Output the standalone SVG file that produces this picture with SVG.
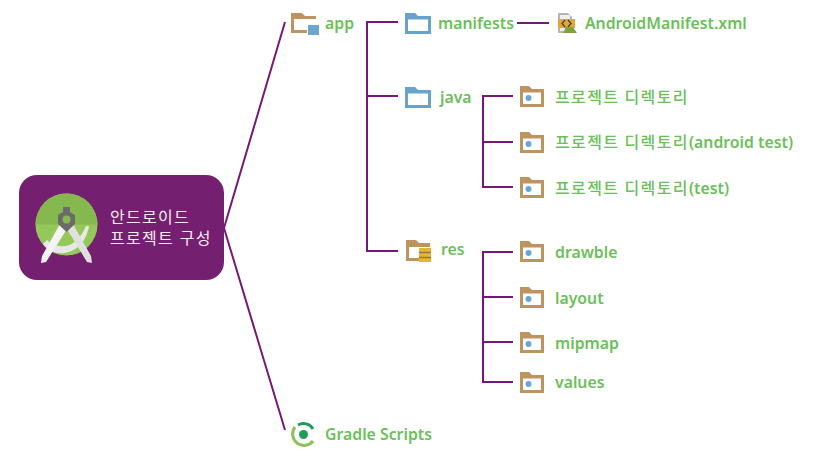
<svg xmlns="http://www.w3.org/2000/svg" width="820" height="457" viewBox="0 0 820 457">
<style>
.l{font-family:"Noto Sans","Noto Sans CJK KR",sans-serif;font-size:15.800px;font-weight:600;fill:#6cbf5a}
.k{font-family:"Noto Sans CJK KR",sans-serif;font-size:16px;font-weight:500;letter-spacing:1.400px}
.w{font-family:"Liberation Sans","Noto Sans CJK KR",sans-serif;font-size:16px;font-weight:400;letter-spacing:1.300px;fill:#f4eef4}
.c{fill:none;stroke:#761878;stroke-width:2}
</style>
<defs>
<g id="bf"><path d="M0 0H9L12 3H24V21H0Z" fill="#bd9460"/><rect x="3" y="6.500" width="18" height="11.500" fill="#fff"/><circle cx="8.500" cy="12" r="3" fill="#6aa6d4"/></g>
<g id="blue"><path d="M0 0H10L13 3H26V21H0Z" fill="#68a3cb"/><rect x="3" y="6.500" width="20" height="11.500" fill="#fff"/></g>
</defs>
<rect width="820" height="457" fill="#fff"/>
<g id="connectors" class="c">
<path d="M285 22L224 228L285 430"/>
<path d="M398 22H367V251H398M367 96H398"/>
<path d="M517 23H549"/>
<path d="M513 96H483V187H513M483 142H513"/>
<path d="M513 252H483V382H513M483 297H513M483 342H513"/>
</g>
<g id="root">
<rect x="19" y="175" width="205" height="105" rx="18" fill="#741f6f"/>
<circle cx="66.500" cy="224.500" r="31" fill="#94c95a"/>
<path d="M35.500 224.500A31 31 0 0 1 97.500 224.500Z" fill="#85b94f"/>
<path d="M47 240C58 250 76 250 86 226L89 226C84 256 54 260 43 244Z" fill="#e8e8e8"/>
<path d="M60 224L67 229L46 262L41 263L42 256Z" fill="#f4f4f4"/>
<path d="M73 224L67 229L87 262L92 263L91 256Z" fill="#e0e0e0"/>
<path d="M63 207H70V212L75 215V224L66.500 232L58 224V215L63 212Z" fill="#6b6b6b"/>
<circle cx="66.500" cy="219.500" r="4" fill="#85b94f"/>
<text class="w"><tspan x="110" y="223">안드로이드</tspan><tspan x="110" y="244">프로젝트 구성</tspan></text>
</g>
<g id="app"><path d="M291 13H302L305 16H316V19H294V30H307V33H291Z" fill="#bd9460"/><rect x="308" y="25" width="11" height="10" fill="#6aa6d0"/><text class="l" x="325" y="29">app</text></g>
<g id="manifests"><use href="#blue" x="405" y="13"/><text class="l" x="438" y="29">manifests</text></g>
<g id="androidmanifest"><path d="M558 13H568L572 17V33H558Z" fill="#b5b5b5"/><rect x="560" y="15" width="10" height="16" fill="#eee"/><rect x="558" y="19" width="17" height="9" fill="#e8a33c"/><path d="M565 20L562 23.500L565 27M568 20L571 23.500L568 27" fill="none" stroke="#444" stroke-width="1.300"/><path d="M563 33L566 27H573L577 33Z" fill="#7da33e"/><text class="l" x="585" y="29">AndroidManifest.xml</text></g>
<g id="java"><use href="#blue" x="405" y="87"/><text class="l" x="440" y="103">java</text></g>
<g id="res"><path d="M406 240H416L419 243H430V247H409V258H419V261H406Z" fill="#bd9460"/><rect x="419" y="248" width="12" height="14" fill="#eab52e"/><path d="M419 252.500H431M419 257.500H431" stroke="#8a7a50" stroke-width="1.500"/><text class="l" x="441" y="255">res</text></g>
<g id="dir1"><use href="#bf" x="520" y="86"/><text class="l" x="555" y="103"><tspan class="k">프로젝트 디렉토리</tspan></text></g>
<g id="dir2"><use href="#bf" x="520" y="132"/><text class="l" x="555" y="148"><tspan class="k">프로젝트 디렉토리</tspan>(android test)</text></g>
<g id="dir3"><use href="#bf" x="520" y="177"/><text class="l" x="555" y="194"><tspan class="k">프로젝트 디렉토리</tspan>(test)</text></g>
<g id="drawble"><use href="#bf" x="520" y="241"/><text class="l" x="555" y="258">drawble</text></g>
<g id="layout"><use href="#bf" x="520" y="287"/><text class="l" x="555" y="304">layout</text></g>
<g id="mipmap"><use href="#bf" x="520" y="332"/><text class="l" x="555" y="349">mipmap</text></g>
<g id="values"><use href="#bf" x="520" y="372"/><text class="l" x="555" y="388">values</text></g>
<g id="gradle"><circle cx="303.500" cy="434.500" r="4.500" fill="#1f9d58"/><path d="M298 425A11 11 0 0 1 313 429" fill="none" stroke="#1f9d58" stroke-width="3"/><path d="M295 427A11 11 0 0 0 313 441" fill="none" stroke="#8cc25a" stroke-width="3"/><text class="l" x="325" y="440">Gradle Scripts</text></g>
</svg>
